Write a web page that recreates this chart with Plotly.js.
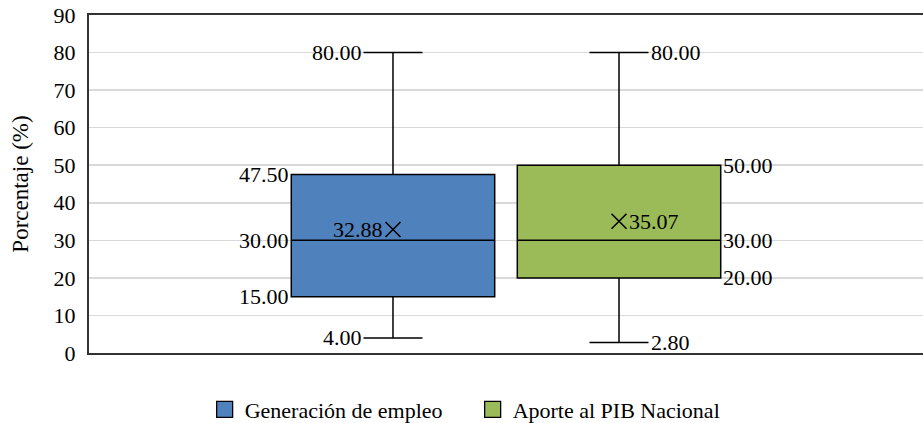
<!DOCTYPE html>
<html>
<head>
<meta charset="utf-8">
<script src="https://cdn.plot.ly/plotly-3.0.1.min.js"></script>
<style>html,body{margin:0;padding:0;background:#fff;}#chart{width:923px;height:423px;}</style>
</head>
<body>
<div id="chart"></div>
<script>
// ---- data ----
const seriesNames = ['Generación de empleo', 'Aporte al PIB Nacional'];
const minVals = [4.00, 2.80];
const q1Vals = [15.00, 20.00];
const medianVals = [30.00, 30.00];
const q3Vals = [47.50, 50.00];
const maxVals = [80.00, 80.00];
const meanVals = [32.88, 35.07];
const yTicks = [0, 10, 20, 30, 40, 50, 60, 70, 80, 90];

// ---- styles ----
const fillColors = ['#4F81BD', '#9BBB59'];
const labelSide = ['left', 'right'];
const FONT = 'Liberation Serif';
const BOX_W = 0.9;
const WHISK = 0.29;

const traces = [];
seriesNames.forEach((name, i) => {
  traces.push({
    type: 'box',
    name: name,
    x: [i],
    q1: [q1Vals[i]],
    median: [medianVals[i]],
    q3: [q3Vals[i]],
    lowerfence: [minVals[i]],
    upperfence: [maxVals[i]],
    width: BOX_W,
    whiskerwidth: WHISK,
    fillcolor: fillColors[i],
    line: {color: '#000000', width: 1.5},
    boxpoints: false,
    hoverinfo: 'skip',
    showlegend: false
  });
});
// legend entries (square swatches)
seriesNames.forEach((name, i) => {
  traces.push({
    type: 'scatter', mode: 'markers', name: name, x: [null], y: [null],
    marker: {symbol: 'square', size: 16, color: fillColors[i], line: {color: '#000', width: 1.3}},
    showlegend: true, hoverinfo: 'skip'
  });
});
traces.push({
  type: 'scatter',
  mode: 'markers',
  x: seriesNames.map((_, i) => i),
  y: meanVals,
  marker: {symbol: 'x-thin-open', size: 15, color: '#000', line: {color: '#000', width: 1.6}},
  showlegend: false,
  hoverinfo: 'skip'
});

const annotations = [];
const fmt = v => v.toFixed(2);
seriesNames.forEach((name, i) => {
  const left = labelSide[i] === 'left';
  const dir = left ? -1 : 1;
  const anchor = left ? 'right' : 'left';
  const boxEdge = i + dir * BOX_W / 2;
  const capEdge = i + dir * BOX_W * WHISK / 2;
  const base = {xref: 'x', yref: 'y', showarrow: false, xanchor: anchor, yanchor: 'middle',
    font: {family: FONT, size: 22, color: '#000'}};
  [q1Vals[i], medianVals[i], q3Vals[i]].forEach(v => {
    annotations.push(Object.assign({}, base, {x: boxEdge, y: v, text: fmt(v)}));
  });
  [minVals[i], maxVals[i]].forEach(v => {
    annotations.push(Object.assign({}, base, {x: capEdge, y: v, text: fmt(v)}));
  });
  annotations.push(Object.assign({}, base, {x: i, y: meanVals[i], text: fmt(meanVals[i]), xshift: dir * 8}));
});

const layout = {
  width: 923, height: 423,
  margin: {l: 89, r: 0, t: 15, b: 70, autoexpand: false},
  paper_bgcolor: '#ffffff', plot_bgcolor: '#ffffff',
  font: {family: FONT, size: 22, color: '#000'},
  xaxis: {
    type: 'linear', range: [-1.345, 2.345], showticklabels: false, showgrid: false,
    zeroline: false, showline: true, mirror: true, linecolor: '#333333', linewidth: 2, ticks: ''
  },
  yaxis: {
    range: [0, 90], tickvals: yTicks, ticktext: yTicks.map(String), showgrid: true, gridcolor: '#d9d9d9',
    gridwidth: 1.5, zeroline: false, showline: true, linecolor: '#333333', linewidth: 2,
    ticks: 'outside', ticklen: 7, tickcolor: 'rgba(0,0,0,0)',
    tickfont: {family: FONT, size: 22, color: '#000'},
    title: {text: 'Porcentaje (%)', font: {family: FONT, size: 23, color: '#000'}, standoff: 19}
  },
  showlegend: true,
  legend: {
    orientation: 'h', x: 0.46, xanchor: 'center', y: -0.105, yanchor: 'top',
    entrywidth: 223, entrywidthmode: 'pixels',
    font: {family: FONT, size: 22, color: '#000'}, itemclick: false, itemdoubleclick: false
  },
  annotations: annotations
};

Plotly.newPlot('chart', traces, layout, {staticPlot: true, displayModeBar: false});
</script>
</body>
</html>
